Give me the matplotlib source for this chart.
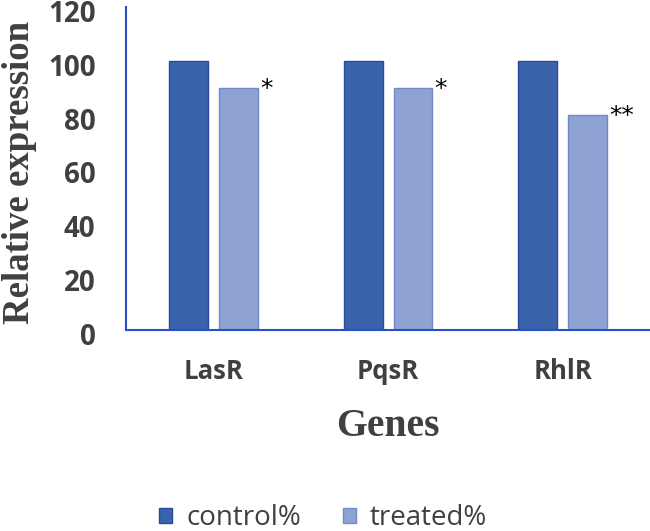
import numpy as np
import matplotlib
matplotlib.use("Agg")
import matplotlib.pyplot as plt
import matplotlib.transforms as mtransforms
from matplotlib.patches import Patch

genes = ["LasR", "PqsR", "RhlR"]
control = [100, 100, 100]
treated = [90, 90, 80]
marks = ["*", "*", "**"]

c_fill, c_edge = "#3b63ab", "#2a48a0"
t_fill, t_edge = "#8ea3d4", "#7089c8"
grey = "#404040"

fig = plt.figure(figsize=(6.5, 5.31), dpi=100)
ax = fig.add_axes([0.194, 0.3785, 0.806, 0.6085])

x = np.arange(len(genes))
w = 0.223
off = 0.143
ax.bar(x - off, control, w, color=c_fill, edgecolor=c_edge, linewidth=1)
ax.bar(x + off, treated, w, color=t_fill, edgecolor=t_edge, linewidth=1)

for xi, v, m in zip(x, treated, marks):
    ax.text(xi + off + w / 2 + 0.012, v - 4.8, m, ha="left", va="bottom",
            fontsize=18, color="black")

ax.set_xlim(-0.5, 2.5)
ax.set_ylim(0, 120)
ax.set_yticks(range(0, 121, 20))
ax.set_xticks(x)
ax.set_xticklabels(genes)

for s in ["top", "right"]:
    ax.spines[s].set_visible(False)
for s in ["left", "bottom"]:
    ax.spines[s].set_color("#2b50c4")
    ax.spines[s].set_linewidth(1.5)

ax.tick_params(length=0)
ax.tick_params(axis="y", pad=22)
ax.tick_params(axis="x", pad=20)

# labels in the reference sit a few pixels below their gridline value
shift = mtransforms.ScaledTranslation(0, -4 / 100, fig.dpi_scale_trans)
for lab in ax.get_yticklabels():
    lab.set_fontsize(20)
    lab.set_transform(lab.get_transform() + shift)
for lab in ax.get_xticklabels():
    lab.set_fontsize(18.5)
for lab in ax.get_yticklabels() + ax.get_xticklabels():
    lab.set_fontfamily("Open Sans")
    lab.set_fontweight("bold")
    lab.set_color(grey)

ax.set_xlabel("Genes", family="Liberation Serif", fontweight="bold",
              fontsize=28.5, color=grey, labelpad=17)
ax.set_ylabel("Relative expression", family="Liberation Serif",
              fontweight="bold", fontsize=26.5, color=grey)
ax.yaxis.set_label_coords(-0.171, 0.487)

handles = [Patch(facecolor=c_fill, edgecolor=c_edge),
           Patch(facecolor=t_fill, edgecolor=t_edge)]
fig.legend(handles, ["control%", "treated%"], loc="center",
           bbox_to_anchor=(0.497, 0.024), ncol=2, frameon=False,
           prop={"family": "Open Sans", "size": 20},
           handlelength=0.47, handleheight=0.47, handletextpad=0.5,
           columnspacing=1.5, labelcolor=grey)

fig.savefig("out.png", dpi=100)
